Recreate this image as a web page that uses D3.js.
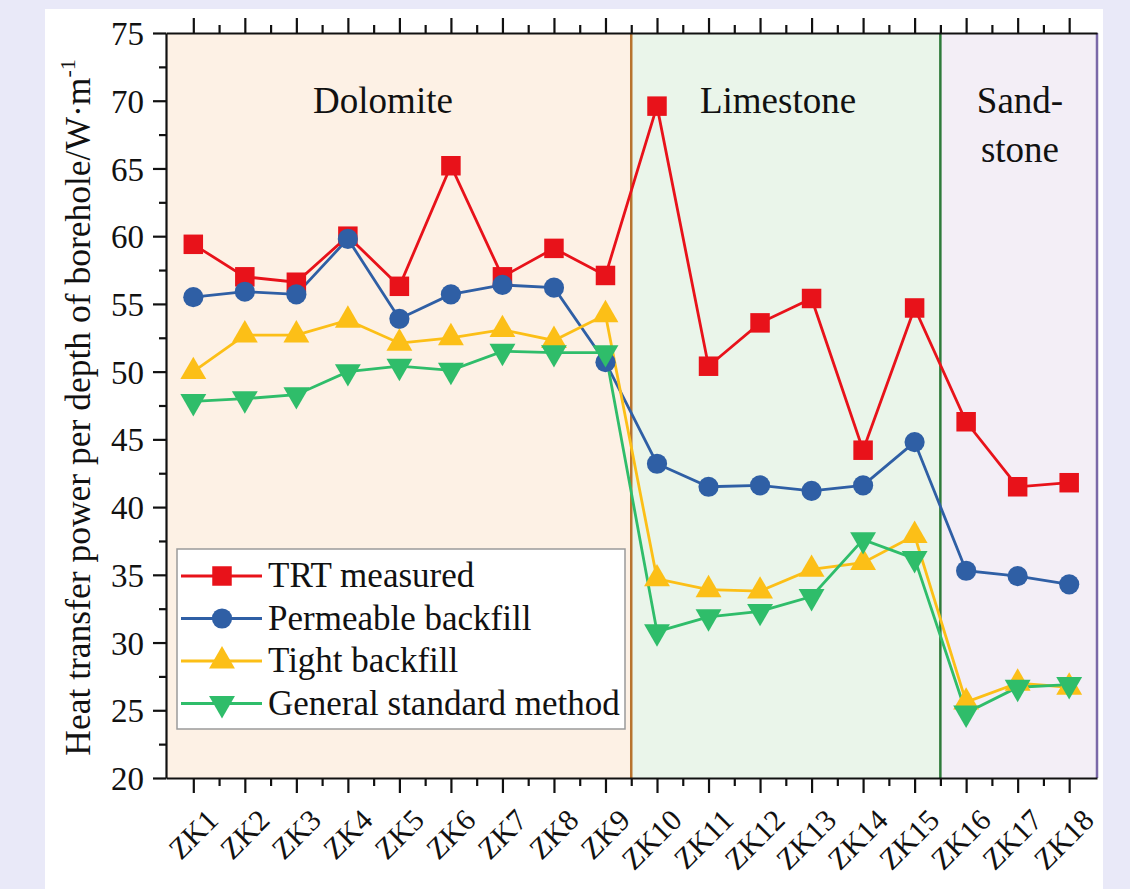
<!DOCTYPE html>
<meta charset="utf-8">
<style>
  body { margin: 0; background: #e9e9f8; }
  svg { display: block; }
  text { font-family: "Liberation Serif", "Times New Roman", serif; fill: #111; }
</style>
<body>
<script src="https://cdn.jsdelivr.net/npm/d3@7/dist/d3.min.js"></script>
<script>

    var boreholes = ["ZK1","ZK2","ZK3","ZK4","ZK5","ZK6","ZK7","ZK8","ZK9",
                     "ZK10","ZK11","ZK12","ZK13","ZK14","ZK15","ZK16","ZK17","ZK18"];

    var trtMeasured    = [59.4,57.0,56.6,60.0,56.3,65.2,57.0,59.1,57.1,69.6,50.4,53.6,55.4,44.2,54.7,46.3,41.5,41.8];
    var permeable      = [55.5,55.9,55.7,59.8,53.9,55.7,56.4,56.2,50.7,43.2,41.5,41.6,41.2,41.6,44.8,35.3,34.9,34.3];
    var tight          = [50.0,52.7,52.7,53.8,52.1,52.5,53.1,52.3,54.2,34.7,33.9,33.8,35.4,35.9,37.9,25.6,27.0,26.7];
    var generalMethod  = [47.8,48.0,48.3,50.0,50.4,50.1,51.5,51.4,51.4,30.8,31.9,32.3,33.4,37.6,36.2,24.8,26.7,26.9];

    var yTicks = [20,25,30,35,40,45,50,55,60,65,70,75];

    // rock zones: start / end on the x scale
    var zones = [
        {name: ["Dolomite"], from: 0.47, to: 9.5, fill: "#fdf1e5", edge: "#b8732e", cx: 383},
        {name: ["Limestone"], from: 9.5, to: 15.5, fill: "#eaf5ea", edge: "#2e7a3a", cx: 778},
        {name: ["Sand-","stone"], from: 15.5, to: 18.54, fill: "#f3eef6", edge: "#7a68a8", cx: 1020}
    ];

    var series = [
        {name: "TRT measured", values: trtMeasured, color: "#e8121a", symbol: d3.symbolSquare, size: 380, rot: 0},
        {name: "Permeable backfill", values: permeable, color: "#2f5fa5", symbol: d3.symbolCircle, size: 320, rot: 0},
        {name: "Tight backfill", values: tight, color: "#fcbf17", symbol: d3.symbolTriangle, size: 290, rot: 0},
        {name: "General standard method", values: generalMethod, color: "#2fbd6a", symbol: d3.symbolTriangle, size: 290, rot: 180}
    ];

    var W = 1130, H = 889;
    var pLeft = 166, pRight = 1097, pTop = 33, pBottom = 778;

    var svg = d3.select("body").append("svg")
            .attr("width", W)
            .attr("height", H);

    svg.append("rect")
            .attr("x", 45).attr("y", 9)
            .attr("width", 1058).attr("height", H - 9)
            .attr("fill", "#fff");

    var x = d3.scaleLinear().domain([0.47, 18.54]).range([pLeft, pRight]);
    var y = d3.scaleLinear().domain([20, 75]).range([pBottom, pTop]);

    // zone backgrounds
    svg.selectAll("rect.zone")
            .data(zones)
            .enter()
            .append("rect")
            .attr("class", "zone")
            .attr("x", function(d) { return x(d.from); })
            .attr("y", pTop)
            .attr("width", function(d) { return x(d.to) - x(d.from); })
            .attr("height", pBottom - pTop)
            .attr("fill", function(d) { return d.fill; });

    svg.selectAll("line.edge")
            .data(zones)
            .enter()
            .append("line")
            .attr("x1", function(d) { return x(d.to); })
            .attr("x2", function(d) { return x(d.to); })
            .attr("y1", pTop).attr("y2", pBottom)
            .attr("stroke", function(d) { return d.edge; })
            .attr("stroke-width", 2.5);

    zones.forEach(function(z) {
        z.name.forEach(function(t, i) {
            svg.append("text")
                    .attr("x", z.cx)
                    .attr("y", 113 + i * 49)
                    .attr("text-anchor", "middle")
                    .style("font-size", "37px")
                    .text(t);
        });
    });

    // axes
    var idx = d3.range(1, 19);
    var minorX = d3.range(1.5, 18.5, 1);

    svg.append("g")
            .attr("transform", "translate(0," + pBottom + ")")
            .call(d3.axisBottom(x).tickValues(minorX).tickSize(8).tickFormat(""))
            .call(function(g) { g.select(".domain").remove(); });

    var xAxis = svg.append("g")
            .attr("transform", "translate(0," + pBottom + ")")
            .call(d3.axisBottom(x).tickValues(idx).tickSize(15).tickSizeOuter(0)
                    .tickFormat(function(d) { return boreholes[d - 1]; }));

    xAxis.selectAll("text")
            .style("font-size", "30px")
            .attr("text-anchor", "end")
            .attr("dy", null)
            .attr("y", 0)
            .attr("transform", "translate(26,44) rotate(-45)");

    svg.append("g")
            .attr("transform", "translate(0," + pTop + ")")
            .call(d3.axisTop(x).tickValues(minorX).tickSize(8).tickFormat(""))
            .call(function(g) { g.select(".domain").remove(); });

    svg.append("g")
            .attr("transform", "translate(0," + pTop + ")")
            .call(d3.axisTop(x).tickValues(idx).tickSize(15).tickSizeOuter(0).tickFormat(""));

    svg.append("g")
            .attr("transform", "translate(" + pLeft + ",0)")
            .call(d3.axisLeft(y).tickValues(d3.range(22.5, 75, 5)).tickSize(7).tickFormat(""))
            .call(function(g) { g.select(".domain").remove(); });

    var yAxis = svg.append("g")
            .attr("transform", "translate(" + pLeft + ",0)")
            .call(d3.axisLeft(y).tickValues(yTicks).tickSize(13).tickSizeOuter(0));

    yAxis.selectAll("text")
            .style("font-size", "33px")
            .attr("x", -22)
            .attr("dy", "0.35em");

    svg.selectAll(".domain, .tick line")
            .attr("stroke", "#111")
            .attr("stroke-width", 2.2);

    var title = svg.append("text")
            .attr("transform", "translate(90," + ((pTop + pBottom) / 2 + 2) + ") rotate(-90)")
            .attr("text-anchor", "middle")
            .style("font-size", "35.5px");
    title.append("tspan").text("Heat transfer power per depth of borehole/W\u00b7m");
    title.append("tspan").attr("dy", -15).style("font-size", "22px").text("-1");

    // lines and markers
    var line = d3.line()
            .x(function(d, i) { return x(i + 1); })
            .y(function(d) { return y(d); });

    series.forEach(function(s) {
        svg.append("path")
                .datum(s.values)
                .attr("d", line)
                .attr("fill", "none")
                .attr("stroke", s.color)
                .attr("stroke-width", 2.8);
    });

    series.forEach(function(s) {
        svg.selectAll(null)
                .data(s.values)
                .enter()
                .append("path")
                .attr("d", d3.symbol().type(s.symbol).size(s.size))
                .attr("transform", function(d, i) {
                    return "translate(" + x(i + 1) + "," + y(d) + ") rotate(" + s.rot + ")";
                })
                .attr("fill", s.color);
    });

    // legend
    var lg = svg.append("g");
    lg.append("rect")
            .attr("x", 177).attr("y", 549)
            .attr("width", 448).attr("height", 180)
            .attr("fill", "#fff")
            .attr("stroke", "#9a9a9a")
            .attr("stroke-width", 1.5);

    series.forEach(function(s, i) {
        var ly = 576 + i * 42.5;
        lg.append("line")
                .attr("x1", 181).attr("x2", 262)
                .attr("y1", ly).attr("y2", ly)
                .attr("stroke", s.color)
                .attr("stroke-width", 2.8);
        lg.append("path")
                .attr("d", d3.symbol().type(s.symbol).size(s.size))
                .attr("transform", "translate(222," + ly + ") rotate(" + s.rot + ")")
                .attr("fill", s.color);
        lg.append("text")
                .attr("x", 268)
                .attr("y", ly + 11)
                .style("font-size", "35px")
                .text(s.name);
    });

</script>
